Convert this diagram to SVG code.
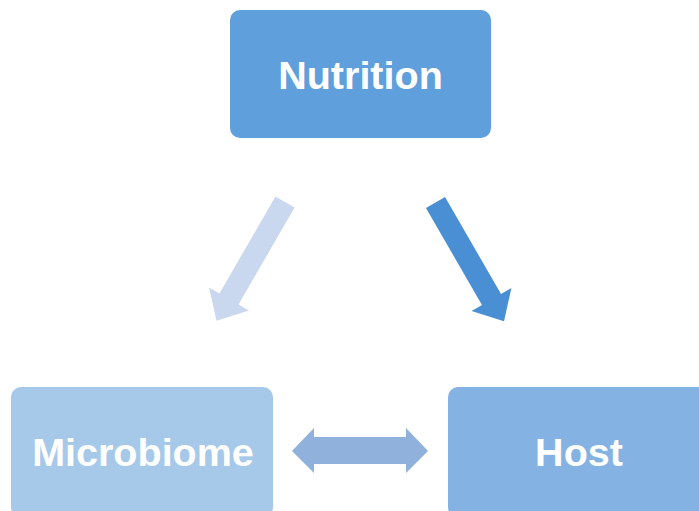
<svg xmlns="http://www.w3.org/2000/svg" width="699" height="511" viewBox="0 0 699 511">
<style>
.lbl{font-family:"Liberation Sans",Arial,sans-serif;font-weight:bold;font-size:39.5px;fill:#ffffff;text-anchor:middle}
</style>
<defs>
<polygon id="arr" points="-11,0 11,0 11,112 23,112 0,137 -23,112 -11,112"/>
</defs>
<rect width="699" height="511" fill="#ffffff"/>
<g id="nutrition">
<rect x="230" y="10" width="261" height="128" rx="10" fill="#5f9fdc"/>
<text class="lbl" x="360.5" y="88.5">Nutrition</text>
</g>
<g id="microbiome">
<rect x="11" y="387" width="262" height="130" rx="10" fill="#a6c9ea"/>
<text class="lbl" x="143" y="465.5">Microbiome</text>
</g>
<g id="host">
<rect x="448" y="387" width="262" height="130" rx="10" fill="#84b2e2"/>
<text class="lbl" x="579" y="465.5">Host</text>
</g>
<g id="connectors">
<use href="#arr" fill="#c9d8ee" transform="translate(285,202) rotate(30)"/>
<use href="#arr" fill="#4a8fd3" transform="translate(435.5,202.5) rotate(-30)"/>
<polygon points="292,451 314,428 314,437 406,437 406,428 428,451 406,473 406,464 314,464 314,473" fill="#90b1dc"/>
</g>
</svg>
